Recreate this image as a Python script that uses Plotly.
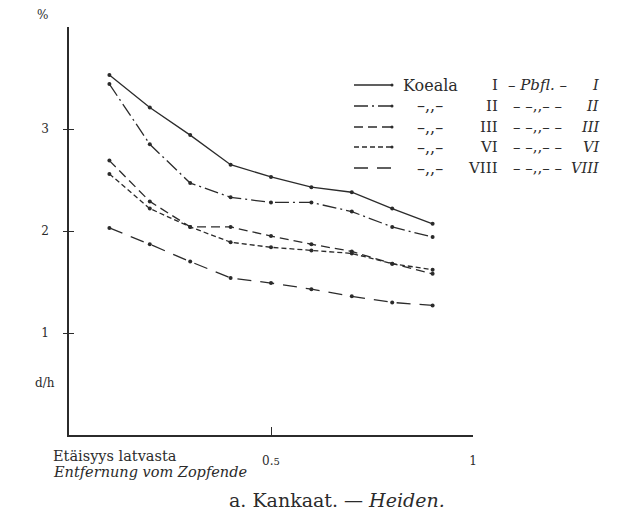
import plotly.graph_objects as go

# ---- data ----
distance = [0.1, 0.2, 0.3, 0.4, 0.5, 0.6, 0.7, 0.8, 0.9]
koeala_I = [3.53, 3.21, 2.94, 2.65, 2.53, 2.43, 2.38, 2.22, 2.07]
koeala_II = [3.44, 2.85, 2.47, 2.33, 2.28, 2.28, 2.19, 2.04, 1.94]
koeala_III = [2.69, 2.29, 2.04, 2.04, 1.95, 1.87, 1.80, 1.68, 1.58]
koeala_VI = [2.56, 2.22, 2.04, 1.89, 1.84, 1.81, 1.78, 1.68, 1.62]
koeala_VIII = [2.03, 1.87, 1.70, 1.54, 1.49, 1.43, 1.36, 1.30, 1.27]

x_tickvals = [0.5, 1]
x_ticktext = ["0.<span style='font-size:10px'>5</span>", "1"]
y_tickvals = [1, 2, 3]
y_ticktext = ["1", "2", "3"]

DITTO = "–,,–"
DITTO2 = "– –,,– –"
legend_rows = [
    ("Koeala", "I", "– <i>Pbfl.</i> –", "<i>I</i>"),
    (DITTO, "II", DITTO2, "<i>II</i>"),
    (DITTO, "III", DITTO2, "<i>III</i>"),
    (DITTO, "VI", DITTO2, "<i>VI</i>"),
    (DITTO, "VIII", DITTO2, "<i>VIII</i>"),
]

# ---- styles ----
INK = "#2b2b2b"
SERIF = "DejaVu Serif"
series = [
    (koeala_I, "solid", True),
    (koeala_II, "14px,4px,2px,4px", True),
    (koeala_III, "9px,5px", True),
    (koeala_VI, "5px,3px", True),
    (koeala_VIII, "14px,9px", False),
]

# plot area in pixels
L, R, T, B = 69, 473, 27, 435
W, H = 624, 516


def px(xp):
    return (xp - L) / (R - L)


def py(yp):
    return (B - yp) / (B - T)


fig = go.Figure()
for vals, dash, _ in series:
    fig.add_trace(go.Scatter(
        x=distance, y=vals, mode="lines+markers",
        line=dict(color=INK, width=1.3, dash=dash),
        marker=dict(color=INK, size=4),
        showlegend=False, hoverinfo="skip",
    ))

# invisible trace to carry the second (inside-tick) y axis
fig.add_trace(go.Scatter(x=[distance[0]], y=[koeala_I[0]], yaxis="y2",
                         mode="markers", marker=dict(opacity=0),
                         showlegend=False, hoverinfo="skip"))

fig.update_layout(
    width=W, height=H,
    margin=dict(l=L, r=W - R, t=T, b=H - B),
    paper_bgcolor="white", plot_bgcolor="white",
    font=dict(family=SERIF, color=INK, size=12),
    xaxis=dict(range=[0, 1], showgrid=False, zeroline=False,
               showline=True, linecolor=INK, linewidth=1.6,
               ticks="inside", ticklen=8, tickwidth=1.4, tickcolor=INK,
               tickvals=x_tickvals, ticktext=x_ticktext,
               tickfont=dict(family=SERIF, size=12, color=INK),
               ticklabelstandoff=14),
    yaxis=dict(range=[0, 4], showgrid=False, zeroline=False,
               showline=True, linecolor=INK, linewidth=1.6,
               ticks="outside", ticklen=4, tickwidth=1.4, tickcolor=INK,
               tickvals=y_tickvals, ticktext=y_ticktext,
               tickfont=dict(family=SERIF, size=12, color=INK),
               ticklabelstandoff=12),
    yaxis2=dict(range=[0, 4], overlaying="y", side="left", anchor="x",
                showgrid=False, zeroline=False, showline=False,
                ticks="inside", ticklen=5, tickwidth=1.4, tickcolor=INK,
                tickvals=y_tickvals, showticklabels=False),
)

ann = []


def text(xp, yp, s, size=12, xanchor="center", italic=False):
    ann.append(dict(x=px(xp), y=py(yp), xref="paper", yref="paper",
                    text=f"<i>{s}</i>" if italic else s, showarrow=False,
                    xanchor=xanchor, yanchor="middle",
                    font=dict(family=SERIF, size=size, color=INK)))


text(42, 15, "%", 12)
text(45, 383, "d/h", 12)
text(51, 456, "Etäisyys latvasta", 14.5, xanchor="left")
text(51, 472, "Entfernung vom Zopfende", 14.5, xanchor="left", italic=True)
text(337, 500, "a. Kankaat. — <i>Heiden.</i>", 19)

# legend
row_y = [85, 106, 127, 147, 168]
shapes = []
for (c1, c2, c3, c4), yy, (_, dash, dot) in zip(legend_rows, row_y, series):
    shapes.append(dict(type="line", xref="paper", yref="paper",
                       x0=px(354), x1=px(392), y0=py(yy), y1=py(yy),
                       line=dict(color=INK, width=1.4, dash=dash)))
    if dot:
        shapes.append(dict(type="circle", xref="paper", yref="paper",
                           x0=px(390.5), x1=px(393.5), y0=py(yy + 1.5), y1=py(yy - 1.5),
                           fillcolor=INK, line=dict(width=0)))
    text(430, yy, c1, 16)
    text(500, yy, c2, 15, xanchor="right")
    text(537, yy, c3, 15)
    text(601, yy, c4, 14.5, xanchor="right")

fig.update_layout(annotations=ann, shapes=shapes)
fig.write_html("out.html")
